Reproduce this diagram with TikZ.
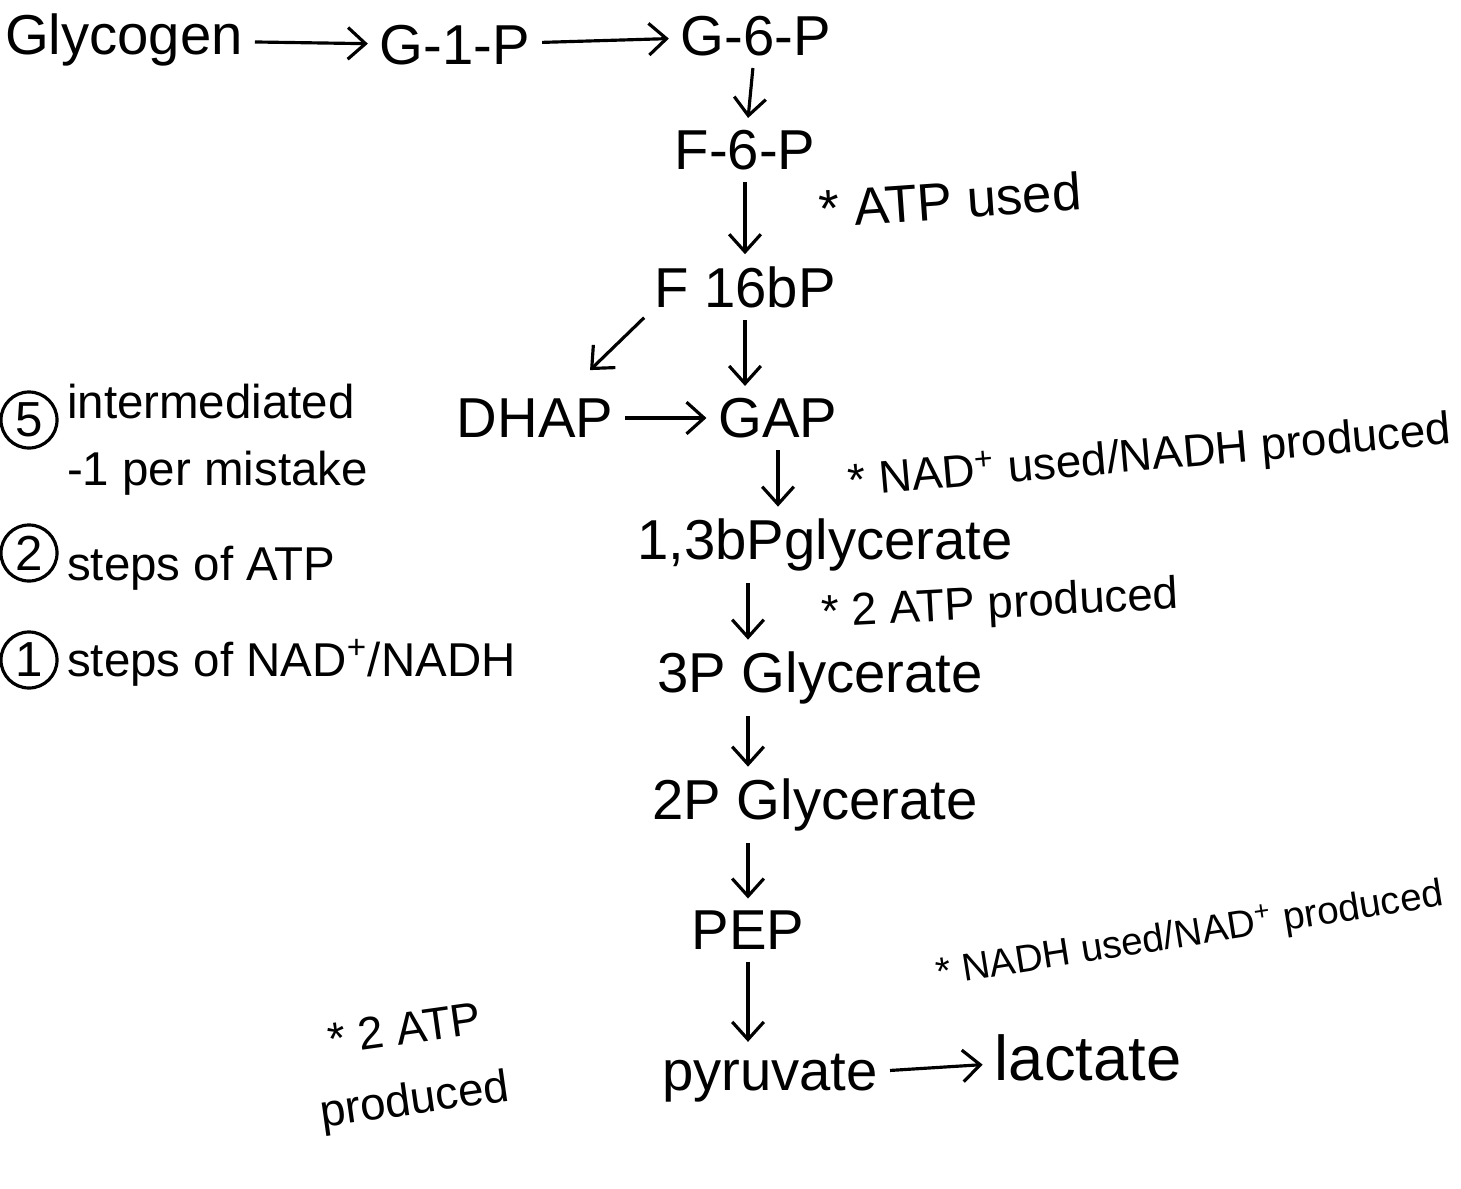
\documentclass[tikz,border=0pt]{standalone}
\usepackage{fontspec}
\setmainfont{Liberation Sans}
\usetikzlibrary{arrows.meta}

\begin{document}
\begin{tikzpicture}[x=0.01cm,y=-0.01cm,line width=0.9pt,
    cmpd/.style={font=\fontsize{16}{18}\selectfont,inner sep=1pt},
    note/.style={font=\fontsize{13}{16}\selectfont,inner sep=1pt},
    memo/.style={font=\fontsize{13.5}{19}\selectfont,inner sep=1pt,anchor=west,align=left},
    numcirc/.style={draw,circle,minimum size=0.56cm,inner sep=0pt,font=\fontsize{14}{14}\selectfont},
    rxn/.style={-{Straight Barb[length=5pt,width=9pt]},shorten <=2pt,shorten >=2pt}]
  \useasboundingbox (0,0) rectangle (1461,1188);
  % main pathway
  \node[cmpd] (glyc) at (124,40) {Glycogen};
  \node[cmpd] (g1p) at (455,45) {G-1-P};
  \node[cmpd] (g6p) at (756,36) {G-6-P};
  \node[cmpd] (f6p) at (745,150) {F-6-P};
  \node[cmpd] (f16) at (745,287) {F 16bP};
  \node[cmpd] (dhap) at (535,418) {DHAP};
  \node[cmpd] (gap) at (778,418) {GAP};
  \node[cmpd] (bpg) at (825,545) {1,3bPglycerate};
  \node[cmpd] (p3g) at (820,678) {3P Glycerate};
  \node[cmpd] (p2g) at (815,805) {2P Glycerate};
  \node[cmpd] (pep) at (748,930) {PEP};
  \node[cmpd] (pyr) at (770,1078) {pyruvate};
  \node[cmpd,font=\fontsize{18}{20}\selectfont] (lact) at (1088,1058) {lactate};
  \coordinate (dhapin) at (585,375);
  \draw[rxn] (glyc) -- (g1p);
  \draw[rxn] (g1p) -- (g6p);
  \draw[rxn] (g6p) -- (f6p);
  \draw[rxn] (f6p) -- (f16);
  \draw[rxn] (f16.south west) -- (dhapin);
  \draw[rxn] (f16.south) -- (f16.south |- gap.north);
  \draw[rxn] (dhap) -- (gap);
  \draw[rxn] (gap.south) -- (bpg.north -| gap.south);
  \draw[rxn] (bpg.south -| pep) -- (p3g.north -| pep);
  \draw[rxn] (p3g.south -| pep) -- (p2g.north -| pep);
  \draw[rxn] (p2g.south -| pep) -- (pep.north);
  \draw[rxn] (pep) -- (pep |- pyr.north);
  \draw[rxn] (pyr) -- (lact);
  % energy notes
  \node[note,rotate=4,font=\fontsize{15}{18}\selectfont] (atpa) at (950,200) {* ATP used};
  \node[note,rotate=5] (nadu) at (1150,458) {* NAD\textsuperscript{+} used/NADH produced};
  \node[note,rotate=3] (atpb) at (1000,606) {* 2 ATP produced};
  \node[note,rotate=9,font=\fontsize{11}{14}\selectfont] (nadhu) at (1190,935) {* NADH used/NAD\textsuperscript{+} produced};
  \node[note,rotate=8,align=center,font=\fontsize{13}{20}\selectfont] (atpc) at (410,1068) {* 2 ATP\\produced};
  % grading memo
  \node[numcirc] (n5) at (29,420) {5};
  \node[memo] (m5) at (62,440) {intermediated\\-1 per mistake};
  \node[numcirc] (n2) at (29,553) {2};
  \node[memo] (m2) at (62,568) {steps of ATP};
  \node[numcirc] (n1) at (29,660) {1};
  \node[memo] (m1) at (62,663) {steps of NAD\textsuperscript{+}/NADH};
\end{tikzpicture}
\end{document}
